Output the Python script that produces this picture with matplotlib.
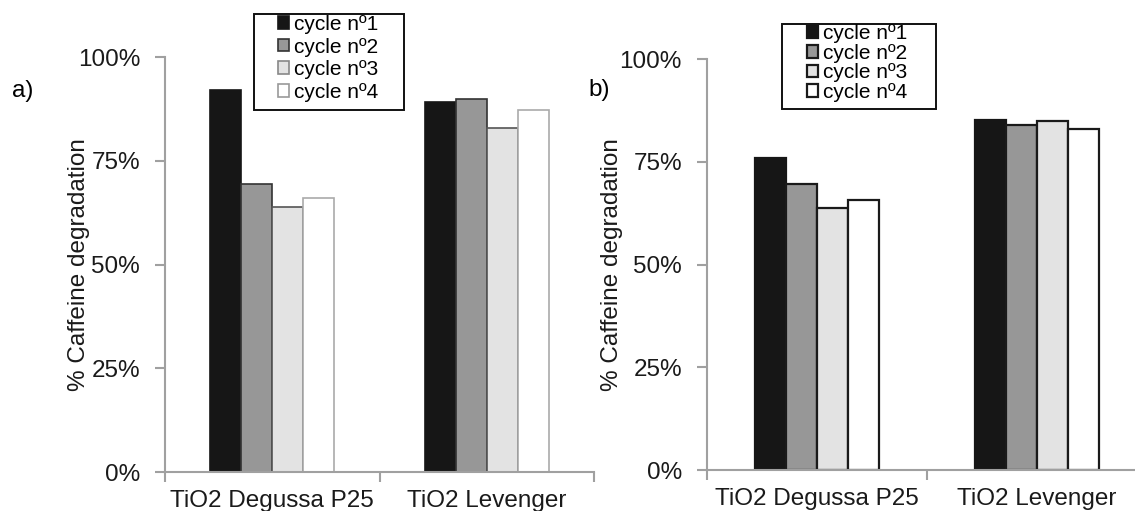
import numpy as np
import matplotlib
matplotlib.use("Agg")
import matplotlib.pyplot as plt
from matplotlib.patches import Patch, Rectangle
from matplotlib.ticker import FuncFormatter

plt.rcParams['font.family'] = ['Liberation Sans', 'DejaVu Sans']

# Data
catalysts = ["TiO2 Degussa P25", "TiO2 Levenger"]
cycles = ["cycle nº1", "cycle nº2", "cycle nº3", "cycle nº4"]
deg_a = [[92.1, 89.2],   # cycle 1
         [69.5, 89.9],   # cycle 2
         [63.8, 82.9],   # cycle 3
         [66.1, 87.3]]   # cycle 4
deg_b = [[76.0, 85.1],
         [69.6, 84.0],
         [63.8, 85.0],
         [65.7, 83.0]]

fills = ["#161616", "#979797", "#e3e3e3", "#ffffff"]
edges_a = ["#161616", "#333333", "#555555", "#aaaaaa"]
leg_edges_a = ["#161616", "#333333", "#888888", "#999999"]
edges_b = ["#161616", "#1a1a1a", "#1a1a1a", "#1a1a1a"]
spine_col = "#a0a0a0"

W, H = 1135, 511
fig = plt.figure(figsize=(W / 100, H / 100), dpi=100)
ax1 = fig.add_axes([0.1454, 0.0763, 0.378, 0.812])
ax2 = fig.add_axes([0.6229, 0.0802, 0.3877, 0.804])


def draw_panel(ax, data, edges, width, lw):
    x = np.arange(len(catalysts))
    for i, vals in enumerate(data):
        ax.bar(x + (i - 1.5) * width, vals, width, color=fills[i],
               edgecolor=edges[i], linewidth=lw)
    ax.set_xlim(-0.5, 1.5)
    ax.set_ylim(0, 100)
    ax.set_yticks([0, 25, 50, 75, 100])
    ax.yaxis.set_major_formatter(FuncFormatter(lambda v, p: "%d%%" % v))
    ax.set_xticks(x)
    ax.set_xticklabels(catalysts)
    ax.set_xticks([-0.5, 0.5, 1.5], minor=True)
    ax.tick_params(axis='x', which='major', length=0, pad=13, labelsize=17.5,
                   labelcolor="#1a1a1a")
    ax.tick_params(axis='x', which='minor', length=7, width=1.5, color=spine_col)
    ax.tick_params(axis='y', length=7, width=1.5, color=spine_col, pad=11,
                   labelsize=17.5, labelcolor="#1a1a1a")
    for s in ["top", "right"]:
        ax.spines[s].set_visible(False)
    for s in ["left", "bottom"]:
        ax.spines[s].set_color(spine_col)
        ax.spines[s].set_linewidth(1.5)
    ax.set_ylabel("% Caffeine degradation", fontsize=17.5, color="#1a1a1a")


draw_panel(ax1, deg_a, edges_a, 0.145, 1.2)
draw_panel(ax2, deg_b, edges_b, 0.141, 1.6)
ax1.yaxis.set_label_coords(-0.176, 0.5)
ax2.yaxis.set_label_coords(-0.191, 0.5)

fig.text(12 / W, 1 - 91 / H, "a)", fontsize=17.5, va="center", ha="left")
fig.text(588 / W, 1 - 90 / H, "b)", fontsize=17.5, va="center", ha="left")

handles_a = [Patch(facecolor=fills[i], edgecolor=leg_edges_a[i], linewidth=1.2)
             for i in range(4)]
handles_b = [Patch(facecolor=fills[i], edgecolor=edges_b[i], linewidth=1.6)
             for i in range(4)]

# legend content, then a plain frame drawn around it
legends = [(handles_a, (278, 15), 0.17, (254, 14, 404, 110)),
           (handles_b, (807, 24), 0.03, (782, 24, 936, 109))]
for handles, (lx, ly), sp, (x0, y0, x1, y1) in legends:
    fig.legend(handles, cycles, loc="upper left",
               bbox_to_anchor=(lx / W, 1 - ly / H),
               bbox_transform=fig.transFigure, borderaxespad=0, borderpad=0,
               fontsize=15, handlelength=0.55, handleheight=0.55,
               handletextpad=0.2, labelspacing=sp, frameon=False)
    fig.patches.append(Rectangle((x0 / W, 1 - y1 / H), (x1 - x0) / W,
                                 (y1 - y0) / H, transform=fig.transFigure,
                                 fill=False, edgecolor="#111111", linewidth=1.4))

fig.savefig("out.png", dpi=100)
